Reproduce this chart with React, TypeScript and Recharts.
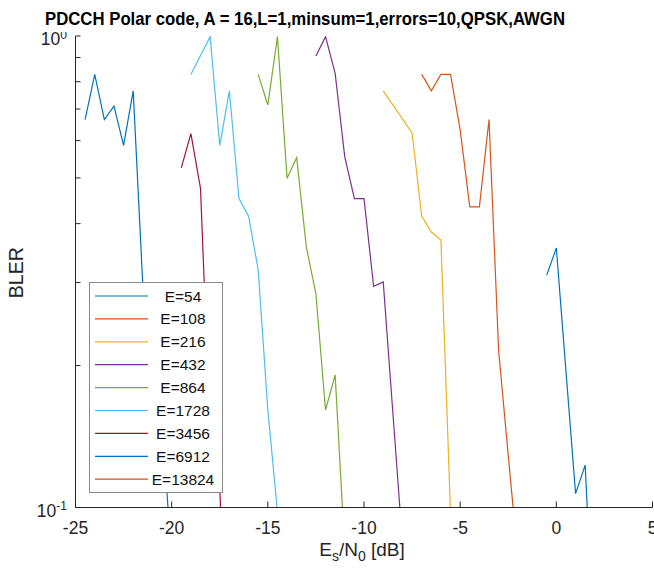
import React from 'react';
import { LineChart, Line, XAxis, YAxis, Legend } from 'recharts';

const TITLE = 'PDCCH Polar code, A = 16,L=1,minsum=1,errors=10,QPSK,AWGN';
const X_LABEL_MAIN = 'E';
const Y_LABEL = 'BLER';

const SERIES_NAMES = ['E=54', 'E=108', 'E=216', 'E=432', 'E=864', 'E=1728', 'E=3456', 'E=6912', 'E=13824'];
const SERIES_COLORS = ['#0072BD', '#D95319', '#EDB120', '#7E2F8E', '#77AC30', '#4DBEEE', '#A2142F', '#0072BD', '#D95319'];

const E54_X = [-0.5, 0, 1, 1.5, 2];
const E54_Y = [0.311, 0.355, 0.107, 0.123, 0.046];

const E108_X = [-7, -6.5, -6, -5.5, -5, -4.5, -4, -3.5, -3, -2.5, -2];
const E108_Y = [0.829, 0.765, 0.829, 0.829, 0.632, 0.434, 0.434, 0.665, 0.215, 0.129, 0.078];

const E216_X = [-9, -7.5, -7, -6.5, -6, -5.5, -5];
const E216_Y = [0.765, 0.623, 0.415, 0.384, 0.369, 0.097, 0.03];

const E432_X = [-12.5, -12, -11.5, -11, -10.5, -10, -9.5, -9, -8.5, -8];
const E432_Y = [0.907, 0.997, 0.833, 0.554, 0.452, 0.452, 0.2945, 0.301, 0.159, 0.084];

const E864_X = [-15.5, -15, -14.5, -14, -13.5, -13, -12.5, -12, -11.5, -11];
const E864_Y = [0.829, 0.714, 0.997, 0.499, 0.552, 0.357, 0.284, 0.161, 0.191, 0.081];

const E1728_X = [-19, -18, -17.5, -17, -16.5, -16, -15.5, -15, -14.5, -14];
const E1728_Y = [0.829, 0.997, 0.586, 0.765, 0.452, 0.415, 0.319, 0.161, 0.098, 0.02];

const E3456_X = [-19.5, -19, -18.5, -18, -17.5, -17];
const E3456_Y = [0.525, 0.621, 0.475, 0.1436, 0.111, 0.03];

const E6912_X = [-24.5, -24, -23.5, -23, -22.5, -22, -21.5, -21, -20.5, -20];
const E6912_Y = [0.665, 0.829, 0.665, 0.71, 0.586, 0.765, 0.296, 0.215, 0.153, 0.077];

const E13824_X: number[] = [];
const E13824_Y: number[] = [];

const SERIES_X = [E54_X, E108_X, E216_X, E432_X, E864_X, E1728_X, E3456_X, E6912_X, E13824_X];
const SERIES_Y = [E54_Y, E108_Y, E216_Y, E432_Y, E864_Y, E1728_Y, E3456_Y, E6912_Y, E13824_Y];

const X_TICKS = [-25, -20, -15, -10, -5, 0, 5];
const Y_TICKS = [0.1, 0.2, 0.3, 0.4, 0.5, 0.6, 0.7, 0.8, 0.9, 1];
const Y_TICK_LABELS: Record<string, string> = { '0.1': '-1', '1': '0' };

const AXIS = '#262626';
const FONT = '"Liberation Sans", Arial, Helvetica, sans-serif';

const SERIES = SERIES_NAMES.map((name, i) => ({
  name,
  color: SERIES_COLORS[i],
  data: SERIES_X[i].map((x, j) => ({ x, y: SERIES_Y[i][j] })),
}));

const XTick = (props: any) => {
  const { x, y, payload } = props;
  return (
    <g>
      <line x1={x} x2={x} y1={y} y2={y - 6} stroke={AXIS} strokeWidth={1} />
      <text x={x} y={y + 26.5} textAnchor="middle" fontSize={17.5} fill={AXIS} fontFamily={FONT}>
        {payload.value}
      </text>
    </g>
  );
};

const YTick = (props: any) => {
  const { x, y, payload } = props;
  const exp = Y_TICK_LABELS[String(payload.value)];
  return (
    <g>
      <line x1={x} x2={x + 5} y1={y} y2={y} stroke={AXIS} strokeWidth={1} />
      {exp !== undefined && (
        <text x={x - 8.5} y={y + 9} textAnchor="end" fontSize={17.5} fill={AXIS} fontFamily={FONT}>
          10
          <tspan dy={-6.5} fontSize={12}>
            {exp}
          </tspan>
        </text>
      )}
    </g>
  );
};

const XLabel = (props: any) => {
  const vb = props.viewBox || { x: 75.5, y: 507.5, width: 577, height: 65.5 };
  const cx = vb.x + vb.width / 2 - 2;
  const cy = vb.y + 48.5;
  return (
    <text x={cx} y={cy} textAnchor="middle" fontSize={19} fill={AXIS} fontFamily={FONT}>
      {X_LABEL_MAIN}
      <tspan dy={5} fontSize={14}>s</tspan>
      <tspan dy={-5}>/N</tspan>
      <tspan dy={5} fontSize={14}>0</tspan>
      <tspan dy={-5}> [dB]</tspan>
    </text>
  );
};

const YLabel = (props: any) => {
  const vb = props.viewBox || { x: 0, y: 36, width: 75.5, height: 471.5 };
  const cx = 23.3;
  const cy = vb.y + vb.height / 2 + 1;
  return (
    <text
      x={cx}
      y={cy}
      transform={`rotate(-90 ${cx} ${cy})`}
      textAnchor="middle"
      fontSize={19.5}
      fill={AXIS}
      fontFamily={FONT}
    >
      {Y_LABEL}
    </text>
  );
};

const renderLegend = (props: any) => {
  const payload = props.payload || [];
  const ordered = SERIES.map((s) => {
    const found = payload.find((p: any) => p.value === s.name);
    return { value: s.name, color: found ? found.color : s.color };
  });
  return (
    <svg width={134} height={211} style={{ display: 'block' }}>
      <rect x={0.5} y={0.5} width={133} height={210} fill="#ffffff" stroke="#8a8a8a" strokeWidth={1} />
      {ordered.map((p, i) => {
        const cy = 14 + i * 22.9;
        return (
          <g key={i}>
            <line x1={6} x2={59} y1={cy} y2={cy} stroke={p.color} strokeWidth={1.2} />
            <text x={94} y={cy + 5.5} textAnchor="middle" fontSize={15.5} fill="#111" fontFamily={FONT}>
              {p.value}
            </text>
          </g>
        );
      })}
    </svg>
  );
};

export default function App() {
  return (
    <div
      style={{
        position: 'absolute',
        left: 0,
        top: 0,
        width: 654,
        height: 573,
        background: '#ffffff',
        fontFamily: FONT,
        overflow: 'hidden',
      }}
    >
      <LineChart width={654} height={573} margin={{ top: 36, right: 1.5, bottom: 0, left: 0 }}>
        <XAxis
          type="number"
          dataKey="x"
          domain={[-25, 5]}
          ticks={X_TICKS}
          interval={0}
          allowDataOverflow
          height={65.5}
          tickSize={0}
          tickMargin={0}
          tickLine={false}
          axisLine={{ stroke: AXIS, strokeWidth: 1 }}
          tick={<XTick />}
          label={XLabel}
        />
        <YAxis
          type="number"
          scale="log"
          domain={[0.1, 1]}
          ticks={Y_TICKS}
          interval={0}
          allowDataOverflow
          width={75.5}
          tickSize={0}
          tickMargin={0}
          tickLine={false}
          axisLine={{ stroke: AXIS, strokeWidth: 1 }}
          tick={<YTick />}
          label={YLabel}
        />
        {SERIES.map((s) => (
          <Line
            key={s.name}
            data={s.data}
            dataKey="y"
            name={s.name}
            type="linear"
            stroke={s.color}
            strokeWidth={1.2}
            dot={false}
            activeDot={false}
            isAnimationActive={false}
          />
        ))}
        <Legend
          layout="vertical"
          align="center"
          verticalAlign="middle"
          content={renderLegend}
          wrapperStyle={{ left: 89, top: 282, width: 134, height: 211, right: 'auto', bottom: 'auto' }}
        />
      </LineChart>
      <svg
        width={654}
        height={32}
        style={{ position: 'absolute', left: 0, top: 0, display: 'block' }}
      >
        <rect x={30} y={0} width={580} height={32} fill="#ffffff" />
        <text
          x={45}
          y={25}
          fontSize={18.5}
          fontWeight="bold"
          fill="#000"
          fontFamily={FONT}
          textLength={520}
          lengthAdjust="spacingAndGlyphs"
        >
          {TITLE}
        </text>
      </svg>
    </div>
  );
}
